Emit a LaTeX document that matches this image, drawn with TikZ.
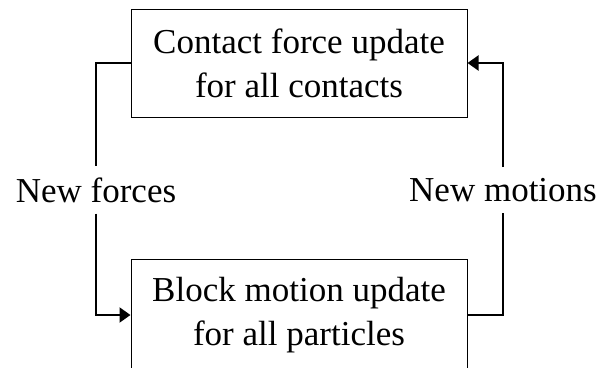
\documentclass[tikz,border=0pt]{standalone}
\usepackage{fontspec}
\setmainfont{Liberation Serif}
\usetikzlibrary{arrows.meta,positioning}

\begin{document}
\begin{tikzpicture}[x=1pt,y=-1pt,
  stepbox/.style={draw,line width=1pt,minimum width=336pt,minimum height=108pt,
    align=center,inner sep=0pt,font=\fontsize{35}{44}\selectfont},
  flowlabel/.style={fill=white,inner xsep=2pt,inner ysep=11pt,font=\fontsize{35}{44}\selectfont},
  link/.style={line width=2pt},
  flow/.style={link,-{Triangle[length=11pt,width=15pt]}}]
\path[use as bounding box] (0,0) rectangle (599,367);
% update steps
\node[stepbox] (contact) at (299,63) {Contact force update\\for all contacts};
\node[stepbox,minimum height=112pt] (block) at (299,315) {Block motion update\\for all particles};
% loop labels
\node[flowlabel] (forces) at (96,190) {New forces};
\node[flowlabel] (motions) at (503,190) {New motions};
% loop
\draw[link] (contact.west) -| (forces);
\draw[flow] (forces) |- (block.west);
\draw[link] (block.east) -| (motions);
\draw[flow] (motions) |- (contact.east);
\end{tikzpicture}
\end{document}
